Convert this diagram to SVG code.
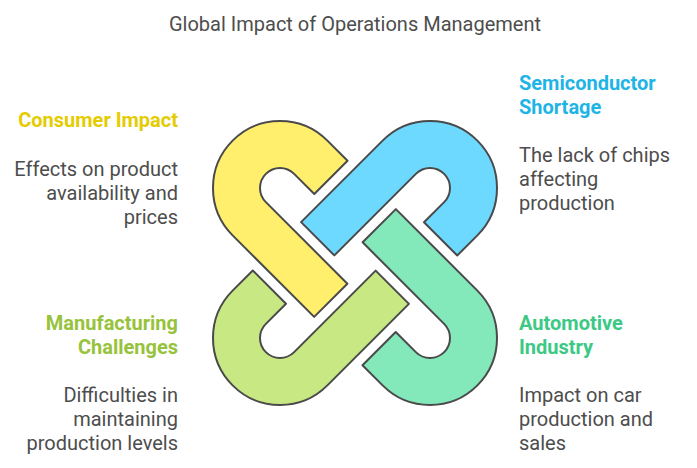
<svg xmlns="http://www.w3.org/2000/svg" width="697" height="468" viewBox="0 0 697 468">
<defs>
<linearGradient id="gy" x1="0" y1="120" x2="0" y2="318" gradientUnits="userSpaceOnUse">
<stop offset="0" stop-color="#FFEF6C"/>
<stop offset="1" stop-color="#FFE740"/>
</linearGradient>
<path id="hook" d="M28.5,-67 L0,-67 A67,67 0 0 0 0,67 L115.3,67 L115.3,20 L0,20 A20,20 0 0 1 0,-20 L28.5,-20 Z"/>
<style>
.shape{stroke:#4A4A4A;stroke-width:2;stroke-linejoin:round}
.t{font-family:Roboto,"Liberation Sans",sans-serif}
.title{font-size:20px;fill:#4D4D4D}
.h{font-size:20px;font-weight:bold}
.b{font-size:20px;fill:#4D4D4D}
.l{text-anchor:end}
</style>
</defs>
<rect width="697" height="468" fill="#FFFFFF"/>
<text class="t title" x="355" y="31" text-anchor="middle">Global Impact of Operations Management</text>
<g id="consumer-impact">
<use href="#hook" class="shape" fill="url(#gy)" transform="translate(280,188) rotate(45)"/>
<text class="t h l" x="178" y="127" fill="#E5CC00">Consumer Impact</text>
<text class="t b l" x="178" y="176">Effects on product</text>
<text class="t b l" x="178" y="200">availability and</text>
<text class="t b l" x="178" y="224">prices</text>
</g>
<g id="semiconductor-shortage">
<use href="#hook" class="shape" fill="#6DD9FF" transform="translate(430,188) rotate(135)"/>
<text class="t h" x="519" y="90" fill="#1EB4E6">Semiconductor</text>
<text class="t h" x="519" y="114" fill="#1EB4E6">Shortage</text>
<text class="t b" x="519" y="162">The lack of chips</text>
<text class="t b" x="519" y="186">affecting</text>
<text class="t b" x="519" y="210">production</text>
</g>
<g id="automotive-industry">
<use href="#hook" class="shape" fill="#83E8BA" transform="translate(430,338) rotate(225)"/>
<text class="t h" x="519" y="330" fill="#3CC985">Automotive</text>
<text class="t h" x="519" y="354" fill="#3CC985">Industry</text>
<text class="t b" x="519" y="402">Impact on car</text>
<text class="t b" x="519" y="426">production and</text>
<text class="t b" x="519" y="450">sales</text>
</g>
<g id="manufacturing-challenges">
<use href="#hook" class="shape" fill="#C8E883" transform="translate(280,338) rotate(315)"/>
<text class="t h l" x="178" y="330" fill="#97C23C">Manufacturing</text>
<text class="t h l" x="178" y="354" fill="#97C23C">Challenges</text>
<text class="t b l" x="178" y="402">Difficulties in</text>
<text class="t b l" x="178" y="426">maintaining</text>
<text class="t b l" x="178" y="450">production levels</text>
</g>
<g id="connectors"></g>
</svg>
